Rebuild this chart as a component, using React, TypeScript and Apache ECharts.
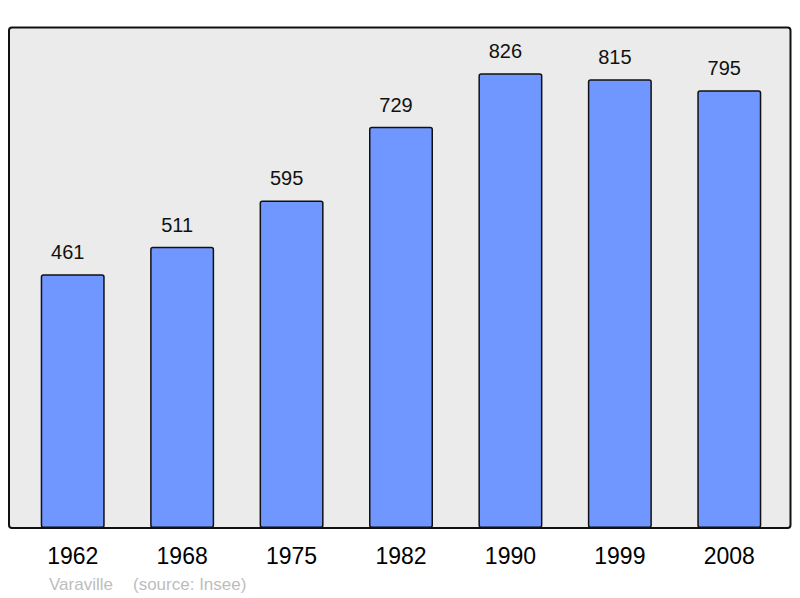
import React, { useEffect, useRef } from "react";
import * as echarts from "echarts";

const years = ["1962", "1968", "1975", "1982", "1990", "1999", "2008"];
const population = [461, 511, 595, 729, 826, 815, 795];
const townName = "Varaville";
const sourceText = "(source: Insee)";

export default function App() {
  const ref = useRef<HTMLDivElement>(null);
  useEffect(() => {
    if (!ref.current) return;
    const chart = echarts.init(ref.current, undefined, { renderer: "svg" });
    const font = "Liberation Sans, Arial, sans-serif";
    chart.setOption({
      animation: false,
      backgroundColor: "#ffffff",
      grid: { left: 18, right: 16, top: 27, bottom: 70 },
      xAxis: {
        type: "category",
        data: years,
        axisLine: { show: false },
        axisTick: { show: false },
        axisLabel: { fontSize: 23, color: "#000", fontFamily: font, margin: 16 },
      },
      yAxis: {
        type: "value",
        min: 0,
        max: 910,
        show: false,
        splitLine: { show: false },
      },
      graphic: [
        {
          type: "rect",
          z: -10,
          shape: { x: 9, y: 27, width: 782, height: 501, r: 3 },
          style: { fill: "#ebebeb", stroke: "none" },
        },
        {
          type: "rect",
          z: 100,
          shape: { x: 9, y: 27.5, width: 781.5, height: 500.5, r: 3 },
          style: { fill: "none", stroke: "#111", lineWidth: 2 },
        },
        {
          type: "text",
          x: 49,
          y: 584,
          style: { text: townName, fontSize: 17, fill: "#bdbdbd", fontFamily: font, verticalAlign: "middle" },
        },
        {
          type: "text",
          x: 133,
          y: 584,
          style: { text: sourceText, fontSize: 17, fill: "#bdbdbd", fontFamily: font, verticalAlign: "middle" },
        },
      ],
      series: [
        {
          type: "bar",
          data: population,
          barWidth: 64,
          itemStyle: {
            color: "#7096ff",
            borderColor: "#111",
            borderWidth: 1.5,
            borderRadius: 2,
          },
          label: {
            show: true,
            position: "top",
            distance: 12,
            offset: [-5, 0],
            fontSize: 20,
            color: "#111",
            fontFamily: font,
          },
        },
      ],
    });
    return () => chart.dispose();
  }, []);
  return (
    <div
      ref={ref}
      style={{ position: "fixed", left: 0, top: 0, width: 800, height: 598 }}
    />
  );
}
